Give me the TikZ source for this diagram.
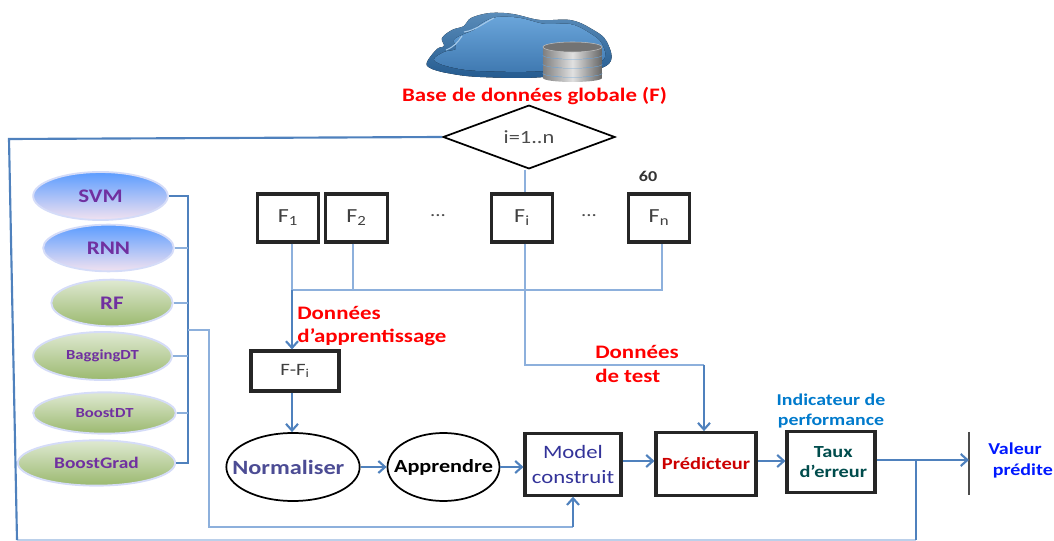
\documentclass[tikz,border=0pt]{standalone}
\usepackage{fontspec}
\setmainfont[FakeStretch=1.2]{Carlito}
\usetikzlibrary{calc,shapes.geometric,arrows.meta}
\definecolor{linkblue}{HTML}{4F81BD}
\definecolor{thinblue}{HTML}{8DB0DC}
\definecolor{algopurple}{HTML}{7030A0}
\definecolor{cloudtop}{HTML}{6AA5DA}
\definecolor{cloudlow}{HTML}{2A6AA8}
\definecolor{bluehigh}{HTML}{5B9CFF}
\definecolor{bluelow}{HTML}{F2E2F0}
\definecolor{greenhigh}{HTML}{DFE9D2}
\definecolor{greenlow}{HTML}{9BB96F}
\definecolor{rimalgo}{HTML}{D5DCF8}
\begin{document}
\begin{tikzpicture}[x={(0.75pt,0pt)}, y={(0pt,-0.75pt)}]
%styles des noeuds
\tikzstyle{boxF}=[rectangle, draw=black!85, line width=2.3pt, text=black!75, inner sep=0pt, font=\fontsize{15}{17}\selectfont]
\tikzstyle{ovalblack}=[ellipse, draw=black, line width=1.3pt, inner sep=0pt]
\tikzstyle{algo}=[ellipse, draw=rimalgo, line width=1.4pt, inner sep=0pt, text=algopurple, font=\bfseries\fontsize{10.4}{12}\selectfont]
\tikzstyle{algoblue}=[algo, top color=bluehigh, bottom color=bluelow, font=\bfseries\fontsize{14.4}{16}\selectfont]
\tikzstyle{algogreen}=[algo, top color=greenhigh, bottom color=greenlow]
\tikzstyle{textRed}=[align=left, text=red, inner sep=0pt, font=\bfseries\fontsize{14.3}{17.6}\selectfont]
\tikzstyle{thinlink}=[thinblue, line width=0.9pt]
\tikzstyle{thicklink}=[linkblue, line width=1.6pt]
\tikzstyle{vector}=[-{Straight Barb[length=5pt,width=9pt]}, linkblue, line width=1.6pt]
\tikzstyle{disc}=[left color=black!50, right color=black!60, middle color=black!12]

\useasboundingbox (0,0) rectangle (1054,541);

%nuage
\fill[top color=cloudtop!85!black, bottom color=cloudlow!85!black] plot[smooth cycle, tension=0.6] coordinates {(427,62) (437,49) (444,46) (442,38) (452,30) (464,26) (471,18) (490,13) (513,14) (540,20) (570,20) (590,28) (607,42) (606,66) (544,77) (480,77) (447,73) (430,68)};
\fill[top color=cloudtop, bottom color=cloudlow!90] plot[smooth cycle, tension=0.6] coordinates {(434,60) (444,52) (456,49) (454,40) (464,34) (474,30) (482,23) (497,17) (520,18) (545,24) (570,24) (588,32) (602,44) (600,62) (544,71) (480,71) (450,67)};
\draw[cloudtop!60, line width=0.8pt] (446,50) .. controls (454,47) and (458,42) .. (462,36);
\draw[cloudtop!60, line width=0.8pt] (464,32) .. controls (476,30) and (482,24) .. (494,18);
%disques
\path[disc] (543,73) -- (543,78) arc (180:0:29.5 and 4) -- (602,73) -- cycle;
\draw[cloudtop, line width=0.7pt] (543,73) arc (180:0:29.5 and 4);
\path[disc] (543,64) -- (543,73) arc (180:0:29.5 and 4) -- (602,64) -- cycle;
\draw[cloudtop, line width=0.7pt] (543,64) arc (180:0:29.5 and 4);
\path[disc] (543,55) -- (543,64) arc (180:0:29.5 and 4) -- (602,55) -- cycle;
\draw[cloudtop, line width=0.7pt] (543,55) arc (180:0:29.5 and 4);
\path[disc] (543,47) -- (543,55) arc (180:0:29.5 and 4) -- (602,47) -- cycle;
\fill[black!55, draw=black!25] (572.5,47) ellipse (29.5 and 5);

%titre et decision
\node[textRed] (titre) at (534.5,96.5) {Base de données globale (F)};
\node[diamond, draw=black, line width=1.3pt, inner sep=0pt, minimum width=129pt, minimum height=46pt, text=black!70, font=\fontsize{14}{16}\selectfont] (decision) at (529,137) {i=1..n};
\node[font=\bfseries\fontsize{11.3}{13}\selectfont, text=black!80, inner sep=0pt] (soixante) at (648,176) {60};

%les plis
\node[boxF, minimum width=46pt, minimum height=36pt] (F1) at (288,218) {F\textsubscript{1}};
\node[boxF, minimum width=46pt, minimum height=36pt] (F2) at (356.5,218) {F\textsubscript{2}};
\node[boxF, minimum width=46pt, minimum height=36pt] (Fi) at (522,218) {F\textsubscript{i}};
\node[boxF, minimum width=46pt, minimum height=36pt] (Fn) at (659,218) {F\textsubscript{n}};
\node[text=black!70, inner sep=0pt, font=\fontsize{13}{15}\selectfont] (dots1) at (438,216) {...};
\node[text=black!70, inner sep=0pt, font=\fontsize{13}{15}\selectfont] (dots2) at (589,216) {...};

%algorithmes
\node[algoblue, minimum width=101pt, minimum height=36pt] (SVM) at (100.5,196) {SVM};
\node[algoblue, minimum width=98pt, minimum height=35pt] (RNN) at (108.5,248) {RNN};
\node[algogreen, font=\bfseries\fontsize{14.4}{16}\selectfont, minimum width=91pt, minimum height=35pt] (RF) at (112,303) {RF};
\node[algogreen, minimum width=104pt, minimum height=36pt] (Bagging) at (102.5,356) {BaggingDT};
\node[algogreen, minimum width=107pt, minimum height=31pt] (BoostDT) at (104.5,413) {BoostDT};
\node[algogreen, font=\bfseries\fontsize{12.1}{14}\selectfont, minimum width=118pt, minimum height=34pt] (BoostGrad) at (96.5,463) {BoostGrad};

%chaine d'apprentissage
\node[boxF, minimum width=66pt, minimum height=30pt, font=\fontsize{13}{15}\selectfont] (FFi) at (295,371) {F-F\textsubscript{i}};
\node[ovalblack, minimum width=100pt, minimum height=51pt, text=black!30!blue!40!gray, font=\bfseries\fontsize{15.2}{17}\selectfont] (norm) at (293,467) {\makebox[0pt][c]{\hspace*{-7pt}Normaliser}};
\node[ovalblack, minimum width=84pt, minimum height=51pt, font=\bfseries\fontsize{13.9}{16}\selectfont] (appr) at (443.5,467) {\makebox[0pt][c]{Apprendre}};
\node[boxF, minimum width=72pt, minimum height=46pt, text=blue!50!black!80, align=center, font=\fontsize{14.2}{18.7}\selectfont] (model) at (573,464.5) {Model\\construit};
\node[boxF, minimum width=75pt, minimum height=47pt, text=red!80!black, font=\bfseries\fontsize{12.8}{15}\selectfont] (pred) at (706,464) {Prédicteur};
\node[boxF, minimum width=66pt, minimum height=46pt, text=teal!60!black, align=center, font=\bfseries\fontsize{12.7}{15}\selectfont] (taux) at (831,462) {\ Taux\\\ d’erreur};

%etiquettes
\node[textRed, anchor=west] (lblappr) at (297,326) {Données\\d’apprentissage};
\node[textRed, anchor=west] (lbltest) at (595,364) {Données\\de test};
\node[align=center, inner sep=0pt, text=blue!40!cyan!80!black, font=\bfseries\fontsize{12.4}{15.7}\selectfont] (lblperf) at (831,411) {Indicateur de\\performance};
\node[align=left, inner sep=0pt, text=blue!90!cyan, font=\bfseries\fontsize{12.5}{15.7}\selectfont, anchor=west] (lblval) at (988,460) {Valeur\\\ prédite};

%sortie
\coordinate (sortieH) at (969,432);
\coordinate (sortieB) at (969,495);
\draw[black!70, line width=0.9pt] (sortieH) -- (sortieB);

%bus des algorithmes
\coordinate (busH) at (188,196);
\coordinate (busB) at (188,463);
\coordinate (busM) at (188,330);
\coordinate (coudeA) at (209,330);
\coordinate (coudeB) at (209,527);
\draw[thicklink] (SVM.east) -- (busH) -- (busB) -- (BoostGrad.east);
\draw[thinlink] (RNN.east) -- (RNN.east -| busH);
\draw[thinlink] (RF.east) -- (RF.east -| busH);
\draw[thinlink] (Bagging.east) -- (Bagging.east -| busH);
\draw[thinlink] (BoostDT.east) -- (BoostDT.east -| busH);
\draw[thinlink] (busM) -- (coudeA) -- (coudeB) -- (coudeB -| model.south);
\draw[vector] (coudeB -| model.south) -- (model.south);

%boucle externe
\coordinate (boucleA) at (9,139);
\coordinate (boucleB) at (17,540);
\coordinate (boucleC) at (916,540);
\coordinate (boucleD) at (916,460);
\draw[thinblue!60, line width=0.9pt] (boucleB) -- (boucleC);
\draw[thicklink] (decision.west) -- (boucleA) -- (boucleB);
\draw[thicklink] (boucleC) -- (boucleD);

%plis vers apprentissage
\coordinate (ligneF) at (292,290);
\coordinate (ligneF2) at (353,290);
\coordinate (ligneFn) at (662,290);
\coordinate (testA) at (525,365);
\coordinate (testB) at (704,365);
\draw[thinlink] (testA |- decision.south) -- (testA |- Fi.north);
\draw[thinlink] (ligneF |- F1.south) -- (ligneF) -- (ligneFn) -- (ligneFn |- Fn.south);
\draw[thinlink] (ligneF2 |- F2.south) -- (ligneF2);
\draw[vector] (ligneF) -- (FFi.north -| ligneF);
\draw[vector] (FFi.south -| ligneF) -- (norm.north -| ligneF);

%donnees de test
\draw[thinlink] (testA |- Fi.south) -- (testA) -- (testB);
\draw[vector] (testB) -- (testB |- pred.north);

%chaine horizontale
\draw[vector] (norm.east) -- (appr.west);
\draw[vector] (appr.east) -- (model.west |- appr.east);
\draw[vector] (model.east |- 0,461) -- (pred.west |- 0,461);
\draw[vector] (pred.east |- 0,461) -- (taux.west |- 0,461);
\draw[vector] (taux.east |- 0,460) -- (sortieH |- 0,460);
\end{tikzpicture}
\end{document}
